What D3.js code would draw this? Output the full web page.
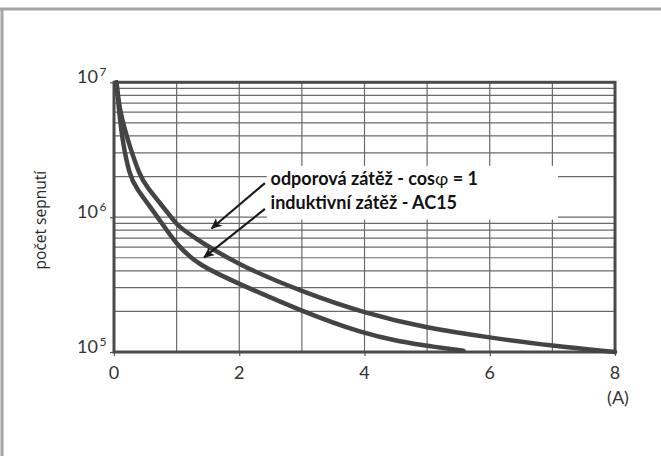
<!DOCTYPE html>
<html>
<head>
<meta charset="utf-8">
<script src="https://cdn.jsdelivr.net/npm/d3@7"></script>
<style>
body { margin: 0; background: #fff; }
svg { display: block; }
</style>
</head>
<body>
<svg width="661" height="456"></svg>
<script>
// switching current (A) vs. number of operations
let resistiveA = [0.04, 0.09, 0.24, 0.41, 0.49, 0.92, 1.0, 1.37, 2.0, 3.0, 4.0, 5.0, 6.0, 7.0, 8.0];
let resistiveN = [1e7, 6.1e6, 3.45e6, 2.06e6, 1.74e6, 1.0e6, 8.7e5, 6.6e5, 4.4e5, 2.8e5, 1.94e5, 1.5e5, 1.28e5, 1.11e5, 1.0e5];

let inductiveA = [0.04, 0.08, 0.144, 0.25, 0.33, 0.7, 1.0, 1.35, 2.0, 3.0, 4.0, 4.55, 5.06, 5.58];
let inductiveN = [1e7, 6.1e6, 3.45e6, 2.06e6, 1.7e6, 1.0e6, 6.2e5, 4.4e5, 3.2e5, 2.0e5, 1.36e5, 1.2e5, 1.1e5, 1.02e5];

let xTicks = [0, 2, 4, 6, 8];
let yTicks = [1e5, 1e6, 1e7];
let yTickBase = ['10', '10', '10'];
let yTickExp = ['5', '6', '7'];
let xUnit = '(A)';
let yTitle = 'počet sepnutí';
let labels = ['odporová zátěž - cos', 'induktivní zátěž - AC15'];

let svg = d3.select('svg');
let width = +svg.attr('width');
let height = +svg.attr('height');
let margin = {top: 82.3, right: 46, bottom: 104, left: 114};

// outer grey frame (left + top only)
svg.append('line').attr('x1', 0).attr('x2', width).attr('y1', 9).attr('y2', 9)
    .attr('stroke', '#a4a4a4').attr('stroke-width', 3);
svg.append('line').attr('x1', 2).attr('x2', 2).attr('y1', 8).attr('y2', height)
    .attr('stroke', '#a4a4a4').attr('stroke-width', 3);

// scales in page coordinates
let xScale = d3.scaleLinear().domain([0, 8]).range([margin.left, width - margin.right]);
let yScale = d3.scaleLog().domain([1e5, 1e7]).range([height - margin.bottom, margin.top]);
let x0 = xScale(0), x1 = xScale(8), yTop = yScale(1e7), yBot = yScale(1e5);

// grid
let gridX = d3.range(1, 8);
let gridY = [];
[1e5, 1e6].forEach(d => d3.range(2, 10).forEach(m => gridY.push(d * m)));
gridY.push(1e6);

svg.selectAll('.gx').data(gridX).enter().append('line')
    .attr('x1', d => xScale(d)).attr('x2', d => xScale(d))
    .attr('y1', yTop).attr('y2', yBot)
    .attr('stroke', '#6a6a6a').attr('stroke-width', 1.2);
svg.selectAll('.gy').data(gridY).enter().append('line')
    .attr('x1', x0).attr('x2', x1)
    .attr('y1', d => yScale(d)).attr('y2', d => yScale(d))
    .attr('stroke', '#6a6a6a').attr('stroke-width', 1.2);

// axes: tick marks only, labels drawn separately
let xAxis = svg.append('g').attr('transform', `translate(0,${yBot})`)
    .call(d3.axisBottom(xScale).tickValues(xTicks).tickSize(4).tickFormat(''));
xAxis.select('.domain').remove();
xAxis.selectAll('line').attr('stroke', '#555').attr('stroke-width', 1.2);

let yAxis = svg.append('g').attr('transform', `translate(${x0},0)`)
    .call(d3.axisLeft(yScale).tickValues(yTicks).tickSize(4).tickFormat(''));
yAxis.select('.domain').remove();
yAxis.selectAll('line').attr('stroke', '#555').attr('stroke-width', 1.2);

let tickFont = {family: 'Lato, sans-serif', weight: 400, fill: '#333'};

svg.selectAll('.xlab').data(xTicks).enter().append('text')
    .attr('x', d => xScale(d)).attr('y', yBot + 27)
    .attr('text-anchor', 'middle')
    .attr('font-family', tickFont.family).attr('font-weight', tickFont.weight)
    .attr('font-size', 18).attr('fill', tickFont.fill)
    .text(d => d);

svg.selectAll('.ylab').data(yTicks).enter().append('text')
    .attr('x', x0 - 16).attr('y', d => yScale(d) + 1)
    .attr('text-anchor', 'end')
    .attr('font-family', tickFont.family).attr('font-weight', tickFont.weight)
    .attr('font-size', 18).attr('fill', tickFont.fill)
    .text((d, i) => yTickBase[i]);

svg.selectAll('.yexp').data(yTicks).enter().append('text')
    .attr('x', x0 - 14.5).attr('y', d => yScale(d) - 6)
    .attr('font-family', tickFont.family).attr('font-weight', tickFont.weight)
    .attr('font-size', 12).attr('fill', tickFont.fill)
    .text((d, i) => yTickExp[i]);

svg.append('text')
    .attr('x', x1 + 3).attr('y', yBot + 52)
    .attr('text-anchor', 'middle')
    .attr('font-family', tickFont.family).attr('font-weight', tickFont.weight)
    .attr('font-size', 18).attr('fill', tickFont.fill)
    .text(xUnit);

let titleX = 46, titleY = yScale(1e6) + 3;
svg.append('text')
    .attr('x', titleX).attr('y', titleY)
    .attr('transform', `rotate(-90,${titleX},${titleY})`)
    .attr('text-anchor', 'middle')
    .attr('font-family', '"Open Sans", sans-serif')
    .attr('font-size', 15.5).attr('fill', '#2a2a2a')
    .text(yTitle);

// white box behind the legend text
svg.append('rect')
    .attr('x', xScale(2.44)).attr('y', yScale(2.4e6))
    .attr('width', xScale(7.09) - xScale(2.44))
    .attr('height', yScale(9.6e5) - yScale(2.4e6))
    .attr('fill', '#fff');

// plot frame
svg.append('rect')
    .attr('x', x0).attr('y', yTop)
    .attr('width', x1 - x0).attr('height', yBot - yTop)
    .attr('fill', 'none').attr('stroke', '#4a4a4a').attr('stroke-width', 3);

// curves
let line = d3.line()
    .x(d => xScale(d[0]))
    .y(d => yScale(d[1]))
    .curve(d3.curveBasis);

[[resistiveA, resistiveN], [inductiveA, inductiveN]].forEach(s => {
    svg.append('path')
        .datum(s[0].map((a, i) => [a, s[1][i]]))
        .attr('d', line)
        .attr('fill', 'none')
        .attr('stroke', '#444')
        .attr('stroke-width', 4.5)
        .attr('stroke-linecap', 'round');
});

// arrows
svg.append('defs').append('marker')
    .attr('id', 'head').attr('viewBox', '0 0 10 10')
    .attr('refX', 9).attr('refY', 5)
    .attr('markerWidth', 11).attr('markerHeight', 11)
    .attr('markerUnits', 'userSpaceOnUse')
    .attr('orient', 'auto')
    .append('path').attr('d', 'M0,0.5 L10,5 L0,9.5 L2.5,5 Z').attr('fill', '#1a1a1a');

let arrowFrom = [[2.41, 1.79e6], [2.41, 1.15e6]];
let arrowTo = [[1.56, 8.27e5], [1.44, 5.04e5]];
svg.selectAll('.arrow').data(arrowFrom).enter().append('line')
    .attr('x1', d => xScale(d[0])).attr('y1', d => yScale(d[1]))
    .attr('x2', (d, i) => xScale(arrowTo[i][0])).attr('y2', (d, i) => yScale(arrowTo[i][1]))
    .attr('stroke', '#1a1a1a').attr('stroke-width', 2.2)
    .attr('marker-end', 'url(#head)');

// legend text
let labelPos = [[2.5, 1.73e6], [2.5, 1.14e6]];
let lt = svg.selectAll('.lbl').data(labels).enter().append('text')
    .attr('x', (d, i) => xScale(labelPos[i][0]))
    .attr('y', (d, i) => yScale(labelPos[i][1]))
    .attr('font-family', 'Lato, sans-serif').attr('font-weight', 700)
    .attr('font-size', 18).attr('fill', '#111')
    .text(d => d);
d3.select(lt.nodes()[0]).append('tspan').attr('font-weight', 400).text('φ');
d3.select(lt.nodes()[0]).append('tspan').text(' = 1');
</script>
</body>
</html>
